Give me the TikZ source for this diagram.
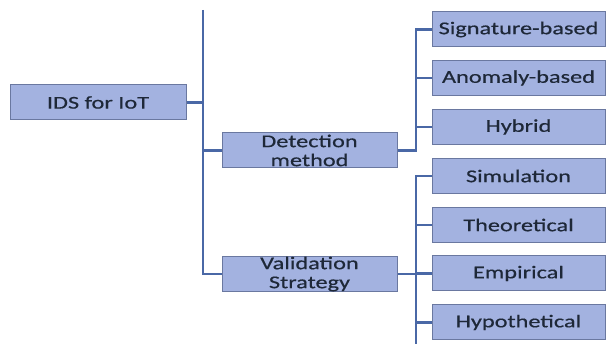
\documentclass[tikz,border=0pt]{standalone}
\usepackage{fontspec}
\setmainfont{Carlito}[FakeStretch=1.35,FakeBold=0.5]
\definecolor{boxfill}{HTML}{A3B2E0}
\definecolor{boxdraw}{HTML}{6A78A0}
\definecolor{linecol}{HTML}{4A68A6}
\definecolor{txt}{HTML}{1E2838}
\begin{document}
\begin{tikzpicture}[x=1pt,y=-1pt,
  box/.style={draw=boxdraw,line width=1pt,fill=boxfill,inner sep=0pt,text=txt,align=center,
    font=\fontsize{18}{19}\selectfont},
  conn/.style={draw=linecol,line width=2.8pt}]
\useasboundingbox (0,0) rectangle (606,344);
\node[box,minimum width=176pt,minimum height=35pt] (root) at (98,102.5) {IDS for IoT};
\node[box,minimum width=175pt,minimum height=35pt] (det) at (309.5,150.5) {Detection\\method};
\node[box,minimum width=175pt,minimum height=35pt] (val) at (309.5,274) {Validation\\Strategy};
\node[box,minimum width=173pt,minimum height=35pt] (sig) at (518.5,29.5) {Signature-based};
\node[box,minimum width=173pt,minimum height=35pt] (ano) at (518.5,78) {Anomaly-based};
\node[box,minimum width=173pt,minimum height=35pt] (hyb) at (518.5,127) {Hybrid};
\node[box,minimum width=173pt,minimum height=35pt] (sim) at (518.5,176) {Simulation};
\node[box,minimum width=173pt,minimum height=35pt] (the) at (518.5,225) {Theoretical};
\node[box,minimum width=173pt,minimum height=35pt] (emp) at (518.5,273.5) {Empirical};
\node[box,minimum width=173pt,minimum height=35pt] (hyp) at (518.5,322.5) {Hypothetical};
\coordinate (mtop) at (203,10);
\coordinate (vbot) at (416,344);
% main trunk
\draw[conn] (mtop) -- (mtop |- val.west) -- (val.west);
\draw[conn] (root.east) -- (root.east -| mtop);
\draw[conn] (det.west -| mtop) -- (det.west);
% detection subtree
\draw[conn] (det.east) -- (det.east -| vbot) -- (sig.west -| vbot) -- (sig.west);
\draw[conn] (ano.west -| vbot) -- (ano.west);
\draw[conn] (hyb.west -| vbot) -- (hyb.west);
% validation subtree
\draw[conn] (sim.west) -- (sim.west -| vbot) -- (vbot);
\draw[conn] (val.east) -- (val.east -| vbot);
\draw[conn] (the.west -| vbot) -- (the.west);
\draw[conn] (emp.west -| vbot) -- (emp.west);
\draw[conn] (hyp.west -| vbot) -- (hyp.west);
\end{tikzpicture}
\end{document}
